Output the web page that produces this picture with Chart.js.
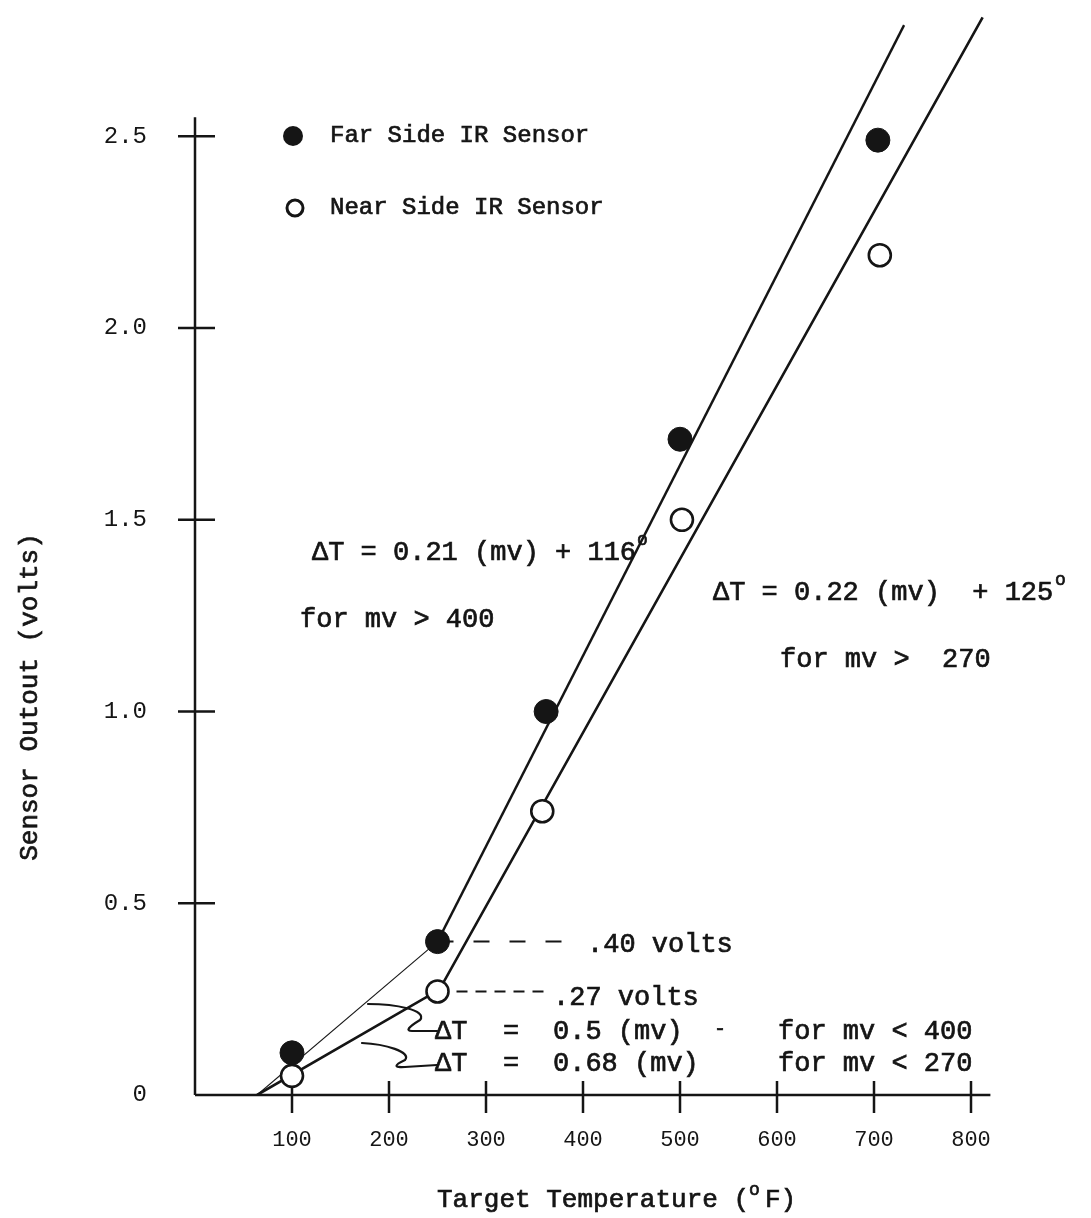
<!DOCTYPE html>
<html>
<head>
<meta charset="utf-8">
<title>IR Sensor Output vs Target Temperature</title>
<script src="https://cdn.jsdelivr.net/npm/chart.js@4.4.1/dist/chart.umd.min.js"></script>
<style>
  html, body { margin: 0; padding: 0; background: #fff; }
  #wrap { position: relative; width: 1091px; height: 1218px; }
</style>
</head>
<body>
<div id="wrap"><canvas id="chart" width="1091" height="1218"></canvas></div>
<script>
// values
const farTemps  = [100, 250, 362, 500, 704];
const farVolts  = [0.11, 0.40, 1.00, 1.71, 2.49];
const nearTemps = [100, 250, 358, 502, 706];
const nearVolts = [0.05, 0.27, 0.74, 1.50, 2.19];

// hand drawn fit lines (break points)
const farLowT  = [64, 250];
const farLowV  = [0, 0.40];
const farHighT = [250, 731];
const farHighV = [0.40, 2.79];
const nearFitT = [64, 252, 812];
const nearFitV = [0, 0.275, 2.81];

// dashed leaders out to the volt notes
const farLeadT  = [250, 397];
const farLeadV  = [0.40, 0.40];
const nearLeadT = [250, 363];
const nearLeadV = [0.27, 0.27];

// axes
const xTicks = [100, 200, 300, 400, 500, 600, 700, 800];
const yTicks = [0, 0.5, 1.0, 1.5, 2.0, 2.5];
const yTickLabels = ['0', '0.5', '1.0', '1.5', '2.0', '2.5'];
const xAxisEnd = 820;
const yAxisTop = 2.55;

const INK = '#151515';
const FONT = '"Liberation Mono", "Courier New", monospace';

function pts(xs, ys){ return xs.map((v, i) => ({ x: v, y: ys[i] })); }

function lineSet(xs, ys, width, dash){
	return {
		data: pts(xs, ys), showLine: true, pointRadius: 0,
		borderColor: INK, borderWidth: width, borderDash: dash || [],
		fill: false, tension: 0
	};
}

// typed text helper: left aligned, middle baseline, slightly inked
function typed(ctx, text, x, y, size){
	ctx.font = size + 'px ' + FONT;
	ctx.textAlign = 'left';
	ctx.textBaseline = 'middle';
	ctx.fillStyle = INK;
	ctx.strokeStyle = INK;
	ctx.lineWidth = 0.7;
	ctx.fillText(text, x, y);
	ctx.strokeText(text, x, y);
}

const axesPlugin = {
	id: 'handAxes',
	beforeDatasetsDraw(chart){
		const { ctx, scales: { x, y } } = chart;
		const x0 = x.getPixelForValue(0), y0 = y.getPixelForValue(0);
		ctx.save();
		ctx.strokeStyle = INK;
		ctx.lineWidth = 2.5;
		ctx.beginPath();
		ctx.moveTo(x0, y0); ctx.lineTo(x0, y.getPixelForValue(yAxisTop));
		ctx.moveTo(x0, y0); ctx.lineTo(x.getPixelForValue(xAxisEnd), y0);
		xTicks.forEach(v => {
			const px = x.getPixelForValue(v);
			ctx.moveTo(px, y0 - 14); ctx.lineTo(px, y0 + 18);
		});
		yTicks.slice(1).forEach(v => {
			const py = y.getPixelForValue(v);
			ctx.moveTo(x0 - 17, py); ctx.lineTo(x0 + 20, py);
		});
		ctx.stroke();
		ctx.restore();
	}
};

const notesPlugin = {
	id: 'notes',
	afterDraw(chart){
		const ctx = chart.ctx;
		ctx.save();

		// legend, markers styled like the datasets
		const far = chart.data.datasets[0], near = chart.data.datasets[1];
		ctx.beginPath(); ctx.arc(293, 136, 10, 0, Math.PI * 2);
		ctx.fillStyle = far.backgroundColor; ctx.fill();
		ctx.beginPath(); ctx.arc(295, 208, 8, 0, Math.PI * 2);
		ctx.fillStyle = near.backgroundColor; ctx.fill();
		ctx.lineWidth = 3; ctx.strokeStyle = near.borderColor; ctx.stroke();
		typed(ctx, 'Far Side IR Sensor', 330, 136, 24);
		typed(ctx, 'Near Side IR Sensor', 330, 208, 24);

		// fit equations
		typed(ctx, '\u0394T = 0.21 (mv) + 116', 312, 553, 27);
		typed(ctx, 'o', 637, 540, 18);
		typed(ctx, 'for mv > 400', 300, 620, 27);
		typed(ctx, '\u0394T = 0.22 (mv)  + 125', 713, 593, 27);
		typed(ctx, 'o', 1055, 580, 18);
		typed(ctx, 'for mv >  270', 780, 660, 27);

		// break point notes
		typed(ctx, '.40 volts', 587, 945, 27);
		typed(ctx, '.27 volts', 553, 998, 27);
		typed(ctx, '\u0394T', 435, 1032, 27);
		typed(ctx, '=', 503, 1032, 27);
		typed(ctx, '0.5 (mv)', 553, 1032, 27);
		typed(ctx, '-', 714, 1030, 20);
		typed(ctx, 'for mv < 400', 778, 1032, 27);
		typed(ctx, '\u0394T', 435, 1064, 27);
		typed(ctx, '=', 503, 1064, 27);
		typed(ctx, '0.68 (mv)', 553, 1064, 27);
		typed(ctx, 'for mv < 270', 778, 1064, 27);

		// squiggly pointers to the low range equations
		ctx.strokeStyle = INK; ctx.lineWidth = 2.2; ctx.lineCap = 'round';
		ctx.beginPath();
		ctx.moveTo(368, 1004);
		ctx.bezierCurveTo(395, 1004, 428, 1010, 420, 1020);
		ctx.quadraticCurveTo(402, 1031, 412, 1031);
		ctx.lineTo(437, 1031);
		ctx.moveTo(362, 1043);
		ctx.bezierCurveTo(385, 1044, 412, 1052, 405, 1060);
		ctx.quadraticCurveTo(388, 1068, 405, 1067);
		ctx.lineTo(437, 1065);
		ctx.stroke();

		// axis titles
		typed(ctx, 'Target Temperature (', 437, 1200, 26);
		typed(ctx, 'o', 749, 1190, 18);
		typed(ctx, 'F)', 765, 1200, 26);
		ctx.translate(30, 697);
		ctx.rotate(-Math.PI / 2);
		ctx.font = '26px ' + FONT;
		ctx.textAlign = 'center';
		ctx.textBaseline = 'middle';
		ctx.fillStyle = INK;
		ctx.fillText('Sensor Outout (volts)', 0, 0);
		ctx.lineWidth = 0.7; ctx.strokeStyle = INK;
		ctx.strokeText('Sensor Outout (volts)', 0, 0);
		ctx.restore();
	}
};

new Chart(document.getElementById('chart').getContext('2d'), {
	type: 'scatter',
	data: {
		datasets: [
			{ label: 'Far Side IR Sensor', data: pts(farTemps, farVolts),
			  pointRadius: 12, backgroundColor: INK, borderColor: INK, borderWidth: 1 },
			{ label: 'Near Side IR Sensor', data: pts(nearTemps, nearVolts),
			  pointRadius: 11, backgroundColor: '#ffffff', borderColor: INK, borderWidth: 2.6 },
			lineSet(farHighT, farHighV, 2.4),
			lineSet(farLowT, farLowV, 1.1),
			lineSet(nearFitT, nearFitV, 2.6),
			lineSet(farLeadT, farLeadV, 2, [16, 20]),
			lineSet(nearLeadT, nearLeadV, 2, [11, 8])
		]
	},
	options: {
		responsive: false,
		animation: false,
		layout: { padding: { top: 0, right: 23, bottom: 0, left: 0 } },
		plugins: { legend: { display: false }, tooltip: { enabled: false } },
		scales: {
			x: {
				type: 'linear', min: 0, max: 900,
				grid: { display: false, drawTicks: false },
				border: { display: false },
				afterBuildTicks: s => { s.ticks = xTicks.map(v => ({ value: v })); },
				afterFit: s => { s.height = 123; s.paddingLeft = 0; s.paddingRight = 0; },
				ticks: { padding: 32, color: INK, maxRotation: 0, autoSkip: false,
					font: { family: FONT, size: 22 }, callback: v => String(v) }
			},
			y: {
				type: 'linear', min: 0, max: 2.82,
				grid: { display: false, drawTicks: false },
				border: { display: false },
				afterBuildTicks: s => { s.ticks = yTicks.map(v => ({ value: v })); },
				afterFit: s => { s.width = 195; s.paddingTop = 0; s.paddingBottom = 0; },
				ticks: { padding: 48, color: INK, autoSkip: false,
					font: { family: FONT, size: 24 },
					callback: v => yTickLabels[yTicks.indexOf(v)] }
			}
		}
	},
	plugins: [axesPlugin, notesPlugin]
});
</script>
</body>
</html>
